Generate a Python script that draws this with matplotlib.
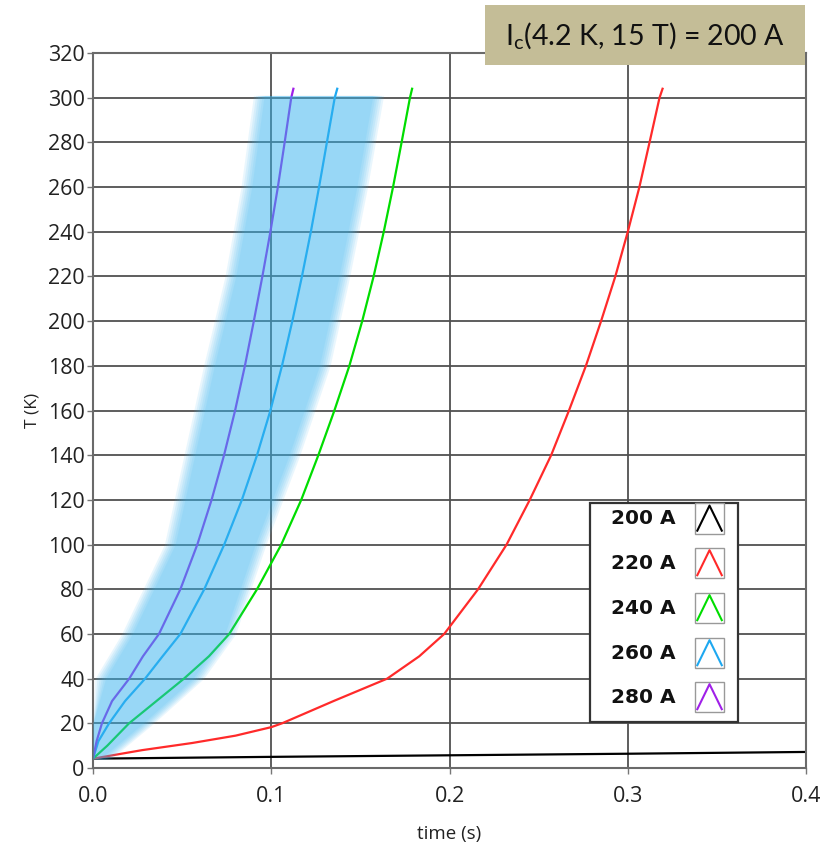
import numpy as np
import matplotlib.pyplot as plt
from matplotlib.patches import Rectangle

t_200 = [0.0, 0.1, 0.2, 0.3, 0.4]
T_200 = [4.2, 5.0, 5.7, 6.4, 7.2]

t_220 = [0.0, 0.0275, 0.0556, 0.08, 0.1, 0.106, 0.135, 0.165, 0.183, 0.197, 0.216, 0.232,
         0.245, 0.257, 0.267, 0.2765, 0.285, 0.293, 0.300, 0.3065, 0.3122, 0.3178, 0.3195]
T_220 = [4.2, 8.0, 11.2, 14.5, 18.3, 20, 30, 40, 50, 60, 80, 100,
         120, 140, 160, 180, 200, 220, 240, 260, 280, 300, 304]

t_240 = [0.0, 0.008, 0.0202, 0.051, 0.065, 0.0764, 0.092, 0.1056, 0.1168, 0.1264, 0.1354,
         0.1438, 0.151, 0.1574, 0.1631, 0.1683, 0.1731, 0.1778, 0.179]
T_240 = [4.2, 10, 20, 40, 50, 60, 80, 100, 120, 140, 160,
         180, 200, 220, 240, 260, 280, 300, 304]

t_260 = [0.0, 0.003, 0.009, 0.018, 0.0292, 0.039, 0.049, 0.0624, 0.0736, 0.0835, 0.092, 0.0995,
         0.106, 0.1118, 0.1172, 0.1222, 0.1268, 0.1312, 0.1356, 0.137]
T_260 = [4.2, 12, 20, 30, 40, 50, 60, 80, 100, 120, 140, 160,
         180, 200, 220, 240, 260, 280, 300, 304]

t_280 = [0.0, 0.002, 0.005, 0.0107, 0.0203, 0.028, 0.037, 0.049, 0.0585, 0.0665, 0.0735,
         0.0797, 0.0852, 0.0902, 0.095, 0.0995, 0.1037, 0.1075, 0.1112, 0.1124]
T_280 = [4.2, 12, 20, 30, 40, 50, 60, 80, 100, 120, 140,
         160, 180, 200, 220, 240, 260, 280, 300, 304]

# highlighted band around the fastest quenches
band_T = [4, 20, 40, 60, 100, 140, 180, 220, 260, 301]
band_left = [0.0, 0.0, 0.007, 0.022, 0.046, 0.057, 0.068, 0.080, 0.089, 0.096]
band_right = [0.004, 0.028, 0.056, 0.074, 0.091, 0.110, 0.127, 0.138, 0.148, 0.157]

labels = ['200 A', '220 A', '240 A', '260 A', '280 A']
colors = ['#000000', '#ff2a2a', '#00dd00', '#1ea8f0', '#a020e8']
series = [(t_200, T_200), (t_220, T_220), (t_240, T_240), (t_260, T_260), (t_280, T_280)]

plt.rcParams['font.family'] = ['Open Sans', 'DejaVu Sans']
plt.rcParams['mathtext.fontset'] = 'custom'
plt.rcParams['mathtext.rm'] = 'Lato'

fig = plt.figure(figsize=(8.21, 8.48), dpi=100)
ax = fig.add_axes([0.1133, 0.0943, 0.8685, 0.8432])

for (tt, TT), c in zip(series, colors):
    ax.plot(tt, TT, color=c, lw=1.6, zorder=2, solid_joinstyle='round')

# soft-edged overlay band
bl = np.array(band_left)
br = np.array(band_right)
bT = np.array(band_T, dtype=float)
for k in range(6):
    e = 0.006 * (1 - k / 5.0)
    ax.fill_betweenx(bT, np.maximum(bl - e, 0), br + e, color='#37b6f0',
                     alpha=0.11, lw=0, zorder=3)

ax.set_xlim(0, 0.4)
ax.set_ylim(0, 320)
ax.set_xticks([0.0, 0.1, 0.2, 0.3, 0.4])
ax.set_xticklabels(['0.0', '0.1', '0.2', '0.3', '0.4'])
ax.set_yticks(np.arange(0, 321, 20))
ax.tick_params(direction='out', length=4, width=1, color='#777777',
               labelsize=15.5, labelcolor='#222222', pad=2)
ax.tick_params(axis='x', pad=9)
ax.set_axisbelow(True)
ax.grid(True, color='#505050', lw=1.3)
for s in ax.spines.values():
    s.set_color('#6a6a6a')
    s.set_linewidth(1.5)

ax.set_xlabel('time (s)', fontsize=13.5, color='#222222', labelpad=13)
ax.set_ylabel('T (K)', fontsize=12.5, color='#222222', labelpad=5)

# legend box with small icons
tr = ax.transAxes
ax.add_patch(Rectangle((0.697, 0.0643), 0.208, 0.3063, transform=tr,
                       facecolor='white', edgecolor='#333333', lw=1.6, zorder=5))
row_y = [0.349, 0.2867, 0.2238, 0.1608, 0.0993]
ih = 0.042
for lab, c, y in zip(labels, colors, row_y):
    ax.text(0.8177, y, lab, transform=tr, ha='right', va='center',
            fontsize=14.5, fontweight='bold', family='DejaVu Sans', color='#111111', zorder=6)
    ax.add_patch(Rectangle((0.8443, y - ih / 2), 0.0407, ih, transform=tr,
                           facecolor='white', edgecolor='#999999', lw=1.0, zorder=6))
    ax.plot([0.8475, 0.8646, 0.8818], [y - ih / 2 + 0.004, y + ih / 2 - 0.003, y - ih / 2 + 0.004],
            transform=tr, color=c, lw=1.5, zorder=7, clip_on=False)

# annotation box
fig.patches.append(Rectangle((0.5907, 0.9233), 0.3898, 0.0708, transform=fig.transFigure,
                             facecolor='#c4bd97', edgecolor='none', zorder=10))
fig.text(0.7856, 0.9575, r'I$_{\mathregular{c}}$(4.2 K, 15 T) = 200 A', ha='center', va='center',
         fontsize=20.5, family='Lato', color='#111111', zorder=11)

fig.savefig('out.png', dpi=100)
